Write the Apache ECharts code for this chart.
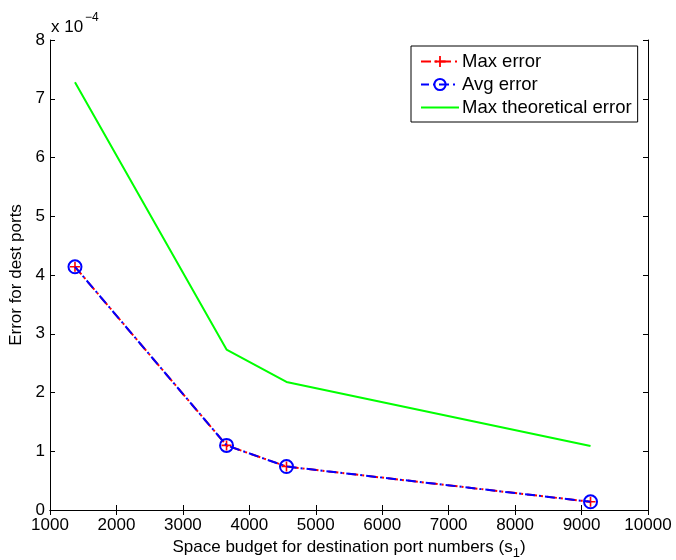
<!DOCTYPE html>
<html>
<head>
<meta charset="utf-8">
<script src="https://cdn.jsdelivr.net/npm/echarts@6/dist/echarts.min.js"></script>
<style>
  html, body { margin: 0; padding: 0; background: #fff; }
  #main { width: 676px; height: 560px; }
</style>
</head>
<body>
<div id="main"></div>
<script>
// budget (x) and errors in units of 1e-4
var budget = [1376, 3657, 4559, 9135];
var maxError = [4.14, 1.10, 0.74, 0.14];
var avgError = [4.14, 1.10, 0.74, 0.14];
var maxTheoretical = [7.28, 2.73, 2.18, 1.09];

var FONT = 'Liberation Sans, Arial, sans-serif';

function pairs(xs, ys) {
    return xs.map(function (x, i) { return [x, ys[i]]; });
}

var plusPath = 'path://M-0.8,-5L0.8,-5L0.8,-0.8L5,-0.8L5,0.8L0.8,0.8L0.8,5L-0.8,5L-0.8,0.8L-5,0.8L-5,-0.8L-0.8,-0.8Z';

var chart = echarts.init(document.getElementById('main'), null, { renderer: 'canvas' });

var tickStyle = { show: true, inside: true, length: 5, lineStyle: { color: '#000', width: 1 } };
var lineStyle = { show: true, lineStyle: { color: '#000', width: 1 } };

var option = {
    backgroundColor: '#fff',
    animation: false,
    textStyle: { fontFamily: FONT },
    grid: { left: 50, right: 28, top: 40, bottom: 50, containLabel: false, outerBoundsMode: 'none' },
    legend: {
        orient: 'vertical',
        left: 411,
        top: 46,
        padding: [6, 6, 5, 9],
        itemGap: 4,
        itemWidth: 38,
        itemHeight: 14,
        borderColor: '#000',
        borderWidth: 1,
        backgroundColor: '#fff',
        textStyle: { fontFamily: FONT, fontSize: 18.5, color: '#000', padding: [0, 0, 0, -2] },
        data: [
            'Max error',
            'Avg error',
            { name: 'Max theoretical error', itemStyle: { color: 'rgba(0,0,0,0)', borderWidth: 0 } }
        ]
    },
    xAxis: [{
        type: 'value',
        min: 1000, max: 10000, interval: 1000,
        position: 'bottom',
        axisLine: lineStyle,
        axisTick: tickStyle,
        splitLine: { show: false },
        axisLabel: {
            color: '#000', fontSize: 17, fontFamily: FONT, margin: 7,
            formatter: function (v) { return String(v); }
        },
        name: 'Space budget for destination port numbers (s{sub|1})',
        nameLocation: 'middle',
        nameGap: 19,
        nameTextStyle: {
            color: '#000', fontSize: 17, fontFamily: FONT,
            rich: { sub: { fontSize: 13, fontFamily: FONT, color: '#000', verticalAlign: 'bottom', padding: [12, 0, 0, 0] } }
        }
    }, {
        type: 'value',
        min: 1000, max: 10000, interval: 1000,
        position: 'top',
        axisLine: lineStyle,
        axisTick: tickStyle,
        splitLine: { show: false },
        axisLabel: { show: false }
    }],
    yAxis: [{
        type: 'value',
        min: 0, max: 8, interval: 1,
        position: 'left',
        axisLine: lineStyle,
        axisTick: tickStyle,
        splitLine: { show: false },
        axisLabel: { color: '#000', fontSize: 17, fontFamily: FONT, margin: 5 },
        name: 'Error for dest ports',
        nameLocation: 'middle',
        nameRotate: 90,
        nameGap: 21,
        nameTextStyle: { color: '#000', fontSize: 17, fontFamily: FONT }
    }, {
        type: 'value',
        min: 0, max: 8, interval: 1,
        position: 'right',
        axisLine: lineStyle,
        axisTick: tickStyle,
        splitLine: { show: false },
        axisLabel: { show: false }
    }],
    graphic: [{
        type: 'text', left: 51, top: 19,
        style: { text: 'x 10', fontSize: 17, fontFamily: FONT, fill: '#000' }
    }, {
        type: 'text', left: 85, top: 12,
        style: { text: '\u22124', fontSize: 12, fontFamily: FONT, fill: '#000' }
    }],
    series: [{
        name: 'Max error',
        type: 'line',
        data: pairs(budget, maxError),
        symbol: plusPath,
        symbolSize: 10,
        itemStyle: { color: '#ff0000' },
        lineStyle: { color: '#ff0000', width: 2, type: [10, 4, 2, 4] },
        z: 2
    }, {
        name: 'Avg error',
        type: 'line',
        data: pairs(budget, avgError),
        symbol: 'circle',
        symbolSize: 13,
        itemStyle: { color: 'rgba(0,0,0,0)', borderColor: '#0000ff', borderWidth: 2 },
        lineStyle: { color: '#0000ff', width: 2, type: [10, 4, 2, 4], dashOffset: 2 },
        z: 3
    }, {
        name: 'Max theoretical error',
        type: 'line',
        data: pairs(budget, maxTheoretical),
        symbol: 'none',
        itemStyle: { color: '#00ff00' },
        lineStyle: { color: '#00ff00', width: 2 },
        z: 1
    }]
};

chart.setOption(option);
</script>
</body>
</html>
